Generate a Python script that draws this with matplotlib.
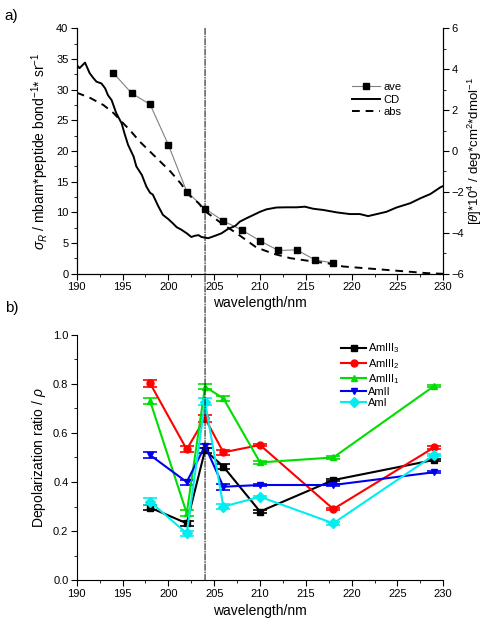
import matplotlib
matplotlib.use("Agg")
import matplotlib.pyplot as plt
from matplotlib.patches import ConnectionPatch
from matplotlib.lines import Line2D
from matplotlib.ticker import MultipleLocator

plt.rcParams['font.family'] = ['Liberation Sans', 'DejaVu Sans']
plt.rcParams['mathtext.fontset'] = 'custom'
plt.rcParams['mathtext.rm'] = 'Liberation Sans'
plt.rcParams['mathtext.it'] = 'Liberation Sans:italic'

# panel a: Raman cross section (ave), absorption (abs) and CD
ave_wl = [194, 196, 198, 200, 202, 204, 206, 208, 210, 212, 214, 216, 218]
ave_val = [32.7, 29.4, 27.6, 21.0, 13.4, 10.6, 8.6, 7.15, 5.37, 3.8, 3.9, 2.28, 1.74]

abs_wl = [190, 191.4, 192.9, 194.0, 194.7, 195.8, 196.9, 198.0, 199.1, 200.2, 201.3,
          202.35, 203.3, 204, 206, 207.45, 209.6, 211.5, 213.3, 215.8, 217.3, 219.1,
          220.9, 222.75, 224.6, 226.4, 228.2, 230]
abs_val = [29.5, 28.7, 27.5, 26.2, 25.1, 23.4, 21.5, 19.9, 18.3, 16.7, 14.8,
           12.7, 11.5, 10.2, 8.0, 6.6, 4.3, 3.25, 2.55, 2.0, 1.74, 1.19,
           0.98, 0.76, 0.54, 0.33, 0.11, 0.0]

cd_wl = [190, 190.3, 190.9, 191.4, 191.8, 192.15, 192.7, 193.1, 193.4, 193.8, 194.3,
         194.9, 195.2, 195.6, 196.2, 196.5, 197.1, 197.6, 198.0, 198.3, 198.9, 199.4,
         200.0, 200.5, 200.9, 201.4, 202.0, 202.5, 202.9, 203.3, 203.6, 204.35, 205.1,
         205.8, 206.5, 207.3, 207.8, 208.5, 209.3, 210.0, 210.7, 211.8, 212.9, 214.0,
         214.9, 215.8, 216.9, 218.4, 219.8, 220.9, 221.8, 222.75, 223.8, 224.9, 226.4,
         227.5, 228.6, 229.7, 230]
cd_val = [4.2, 4.05, 4.32, 3.81, 3.57, 3.39, 3.3, 3.06, 2.73, 2.49, 1.86,
          1.35, 0.87, 0.3, -0.27, -0.75, -1.17, -1.74, -2.04, -2.13, -2.7, -3.12,
          -3.33, -3.54, -3.72, -3.84, -4.02, -4.2, -4.14, -4.11, -4.2, -4.26, -4.14,
          -4.02, -3.81, -3.66, -3.45, -3.29, -3.12, -2.97, -2.85, -2.76, -2.75, -2.75,
          -2.72, -2.82, -2.88, -3.0, -3.08, -3.08, -3.18, -3.08, -2.97, -2.76, -2.55,
          -2.31, -2.1, -1.77, -1.71]

# panel b: depolarization ratios
dep_wl = [198, 202, 204, 206, 210, 218, 229]
amIII3 = [0.296, 0.232, 0.53, 0.463, 0.28, 0.408, 0.49]
amIII2 = [0.802, 0.533, 0.66, 0.521, 0.551, 0.29, 0.541]
amIII1 = [0.73, 0.273, 0.788, 0.741, 0.48, 0.5, 0.791]
amII = [0.51, 0.40, 0.547, 0.381, 0.388, 0.388, 0.44]
amI = [0.32, 0.191, 0.727, 0.30, 0.34, 0.232, 0.51]
err3 = [0.01, 0.01, 0.01, 0.01, 0.005, 0.005, 0.005]
err2 = [0.015, 0.012, 0.015, 0.01, 0.005, 0.005, 0.005]
err1 = [0.012, 0.012, 0.01, 0.01, 0.005, 0.005, 0.005]
errII = [0.012, 0.01, 0.01, 0.012, 0.005, 0.005, 0.005]
errI = [0.015, 0.01, 0.015, 0.01, 0.005, 0.005, 0.005]
dep_labels = ['AmIII$_3$', 'AmIII$_2$', 'AmIII$_1$', 'AmII', 'AmI']
dep_colors = ['black', 'red', '#00dd00', '#0000ee', '#00eeee']
dep_markers = ['s', 'o', '^', 'v', 'D']

fig = plt.figure(figsize=(4.86, 6.28), dpi=100)
ax1 = fig.add_axes([0.158, 0.564, 0.754, 0.391])
ax3 = fig.add_axes([0.158, 0.076, 0.754, 0.391])

ax1.plot(ave_wl, ave_val, color='gray', lw=0.8, marker='s', ms=5,
         mfc='black', mec='black', label='ave')
ax1.plot(abs_wl, abs_val, color='black', lw=1.4, ls=(0, (4, 3)), label='abs')
ax2 = ax1.twinx()
ax2.plot(cd_wl, cd_val, color='black', lw=1.4, label='CD')

ax1.set_xlim(190, 230)
ax1.set_ylim(0, 40)
ax2.set_ylim(-6, 6)
ax1.xaxis.set_major_locator(MultipleLocator(5))
ax1.xaxis.set_minor_locator(MultipleLocator(2.5))
ax1.yaxis.set_major_locator(MultipleLocator(5))
ax1.yaxis.set_minor_locator(MultipleLocator(2.5))
ax2.yaxis.set_major_locator(MultipleLocator(2))
ax2.yaxis.set_minor_locator(MultipleLocator(1))
ax1.set_xlabel('wavelength/nm', fontsize=10, labelpad=3)
ax1.set_ylabel(r'$\sigma_R$ / mbarn*peptide bond$^{-1}$* sr$^{-1}$', fontsize=10, labelpad=4)
ax2.set_ylabel(r'[$\theta$]*10$^4$ / deg*cm$^2$*dmol$^{-1}$', fontsize=9.5, labelpad=1)
for ax in (ax1, ax2):
    ax.spines['top'].set_visible(False)
    ax.tick_params(which='both', direction='out', labelsize=8, pad=2)
    ax.tick_params(which='major', length=4)
    ax.tick_params(which='minor', length=2)

h1, l1 = ax1.get_legend_handles_labels()
h2, l2 = ax2.get_legend_handles_labels()
handles = [h1[0], h2[0], h1[1]]
labels = [l1[0], l2[0], l1[1]]
ax1.legend(handles, labels, loc='upper left', bbox_to_anchor=(0.74, 0.8), frameon=False,
           fontsize=8, handlelength=2.5, handletextpad=0.3, labelspacing=0.25,
           borderaxespad=0)

series = [amIII3, amIII2, amIII1, amII, amI]
errs = [err3, err2, err1, errII, errI]
dep_handles = []
for vals, err, lab, col, mk in zip(series, errs, dep_labels, dep_colors, dep_markers):
    ax3.errorbar(dep_wl, vals, yerr=err, color=col, lw=1.5, marker=mk, ms=5,
                 capsize=5, capthick=1.2, elinewidth=1.2)
    dep_handles.append(Line2D([], [], color=col, lw=1.5, marker=mk, ms=5, label=lab))

ax3.set_xlim(190, 230)
ax3.set_ylim(0, 1.0)
ax3.xaxis.set_major_locator(MultipleLocator(5))
ax3.xaxis.set_minor_locator(MultipleLocator(2.5))
ax3.yaxis.set_major_locator(MultipleLocator(0.2))
ax3.yaxis.set_minor_locator(MultipleLocator(0.1))
ax3.set_xlabel('wavelength/nm', fontsize=10)
ax3.set_ylabel(r'Depolarization ratio / $\rho$', fontsize=10)
ax3.spines['top'].set_visible(False)
ax3.spines['right'].set_visible(False)
ax3.tick_params(which='both', direction='out', labelsize=8, pad=2)
ax3.tick_params(which='major', length=4)
ax3.tick_params(which='minor', length=2)
ax3.legend(handles=dep_handles, loc='upper left', bbox_to_anchor=(0.71, 0.99),
           frameon=False, fontsize=8, handlelength=2.2, handletextpad=0.2,
           labelspacing=0.12, borderaxespad=0)

# dash-dot marker line at 204 nm running through both panels
con = ConnectionPatch(xyA=(204, 40), coordsA=ax1.transData,
                      xyB=(204, 0), coordsB=ax3.transData,
                      color='black', lw=0.7, ls='-.')
fig.add_artist(con)

fig.text(0.01, 0.975, 'a)', fontsize=11, va='center')
fig.text(0.01, 0.51, 'b)', fontsize=11, va='center')

fig.savefig('out.png', dpi=100)
